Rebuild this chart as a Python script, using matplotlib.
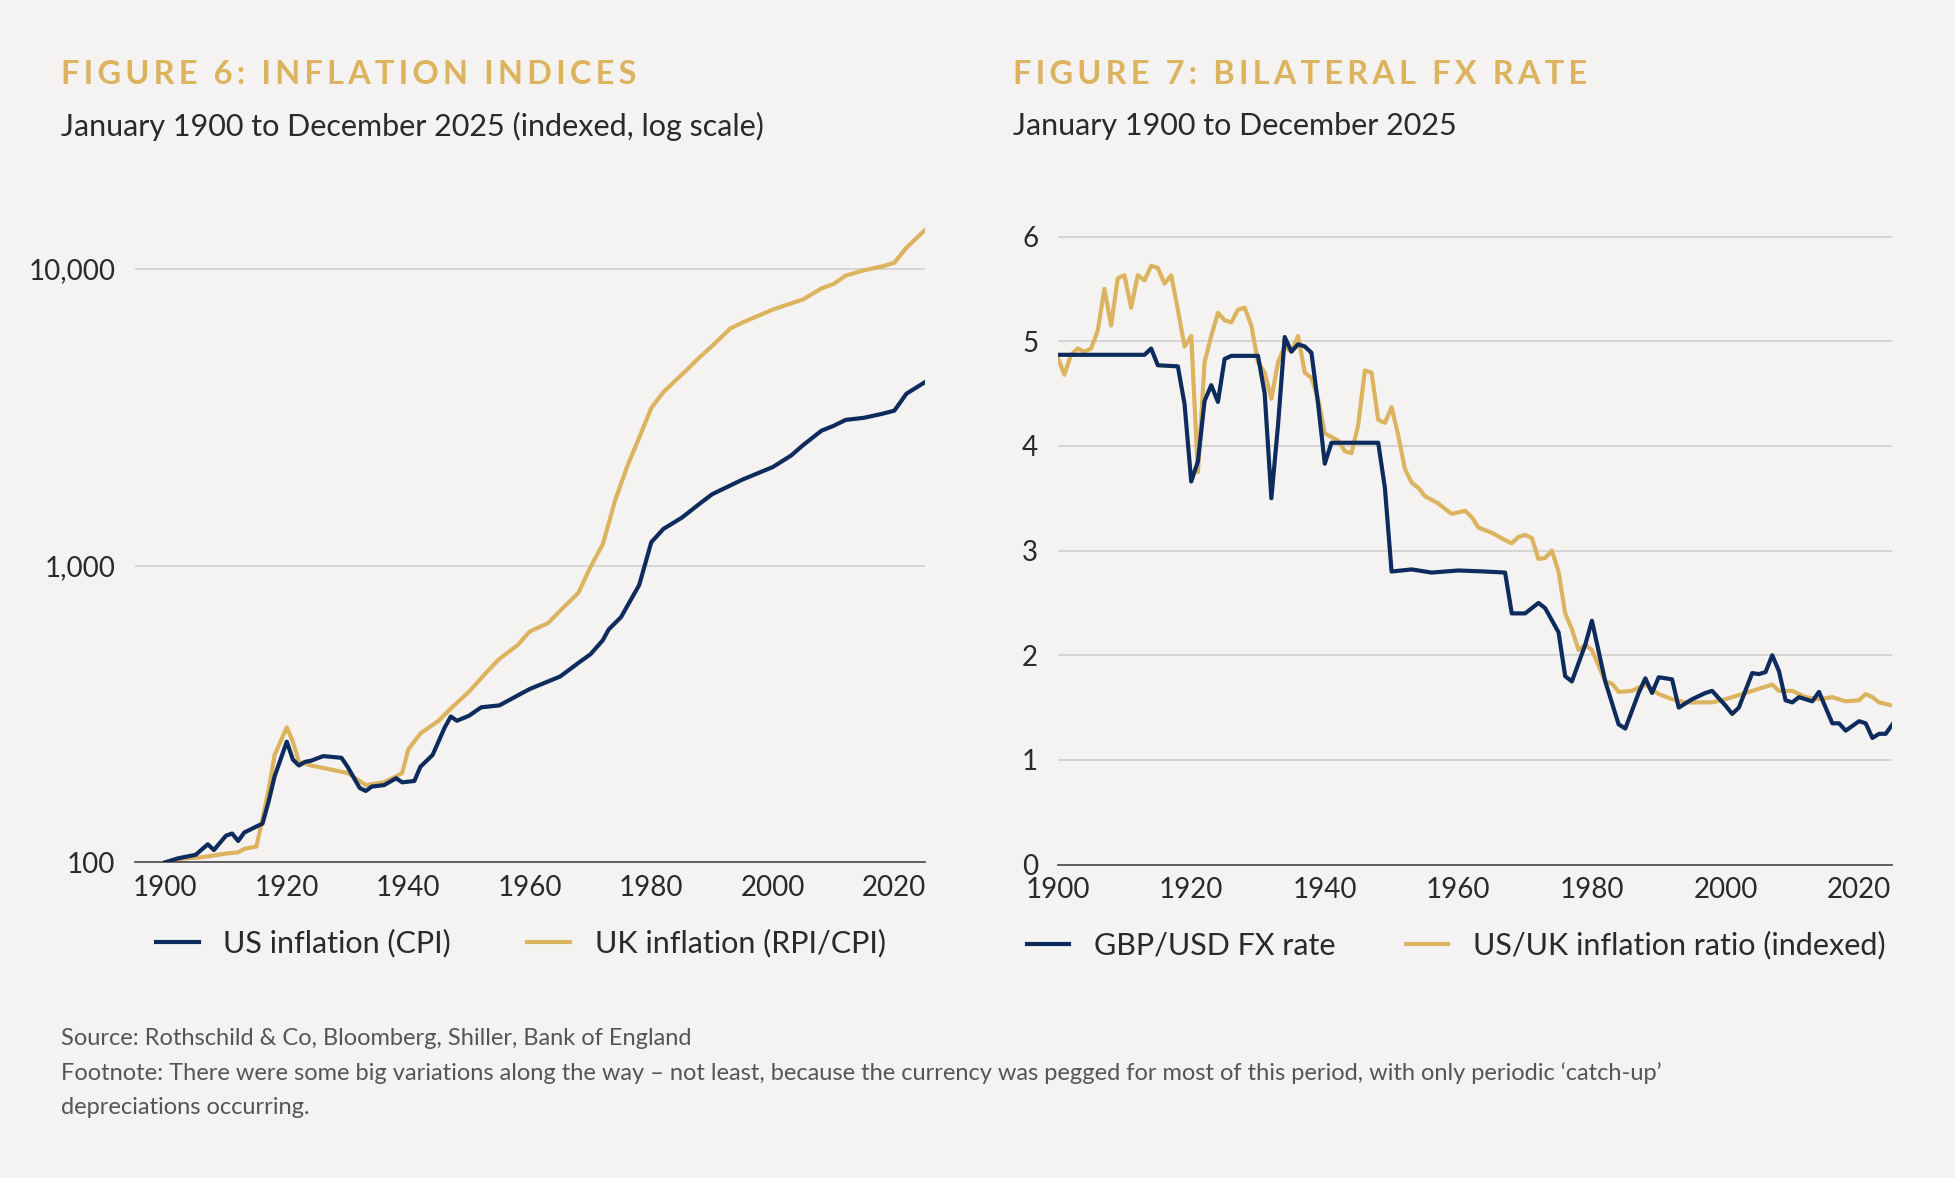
import matplotlib
matplotlib.use("Agg")
import matplotlib.pyplot as plt
from matplotlib.ticker import FixedLocator, FuncFormatter, NullLocator

plt.rcParams['font.family'] = ['Lato', 'DejaVu Sans']

NAVY = '#0d2b5c'
GOLD = '#dcb35f'
BG = '#f5f3f2'
TXT = '#2a2a2a'

us_years = [1900,1902,1905,1907,1908,1910,1911,1912,1913,1915,1916,1917,1918,1920,1921,1922,1923,1924,1926,1929,1930,1932,1933,1934,1936,1938,1939,1941,1942,1944,1946,1947,1948,1950,1952,1955,1958,1960,1965,1968,1970,1972,1973,1975,1978,1980,1982,1985,1988,1990,1995,2000,2003,2005,2008,2010,2012,2015,2018,2020,2022,2025]
us_cpi = [100,103,106,115,110,123,125,118,126,132,135,160,195,255,222,212,218,220,228,225,210,178,174,180,182,192,186,188,210,230,285,310,300,312,333,338,365,384,423,470,503,560,610,670,860,1200,1330,1450,1620,1740,1950,2150,2350,2550,2850,2960,3100,3150,3250,3330,3800,4150]

uk_years = [1900,1903,1906,1910,1912,1913,1915,1916,1917,1918,1920,1921,1922,1924,1926,1930,1933,1936,1938,1939,1940,1942,1945,1947,1950,1953,1955,1958,1960,1963,1965,1968,1970,1972,1973,1974,1976,1978,1980,1982,1985,1988,1990,1993,1995,2000,2005,2008,2010,2012,2015,2018,2020,2022,2025]
uk_cpi = [100,103,104,107,108,111,113,140,175,230,285,255,218,212,208,200,182,186,195,200,240,272,300,330,376,440,485,540,600,640,705,810,990,1180,1390,1650,2150,2700,3400,3850,4400,5050,5500,6300,6600,7300,7900,8600,8900,9500,9900,10200,10500,11800,13500]

fx_years = [1900,1913,1914,1915,1918,1919,1920,1921,1922,1923,1924,1925,1926,1930,1931,1932,1933,1934,1935,1936,1937,1938,1939,1940,1941,1948,1949,1950,1953,1956,1960,1964,1967,1968,1970,1972,1973,1975,1976,1977,1979,1980,1982,1984,1985,1987,1988,1989,1990,1992,1993,1995,1997,1998,2000,2001,2002,2004,2005,2006,2007,2008,2009,2010,2011,2013,2014,2016,2017,2018,2020,2021,2022,2023,2024,2025]
gbpusd = [4.87,4.87,4.93,4.77,4.76,4.4,3.66,3.85,4.43,4.58,4.42,4.83,4.86,4.86,4.5,3.5,4.2,5.04,4.9,4.97,4.95,4.89,4.4,3.83,4.03,4.03,3.6,2.8,2.82,2.79,2.81,2.8,2.79,2.4,2.4,2.5,2.45,2.22,1.8,1.75,2.1,2.33,1.75,1.34,1.3,1.64,1.78,1.64,1.79,1.77,1.5,1.58,1.64,1.66,1.52,1.44,1.5,1.83,1.82,1.84,2.0,1.85,1.57,1.55,1.6,1.56,1.65,1.35,1.35,1.28,1.37,1.35,1.21,1.25,1.25,1.34]

ratio_years = [1900,1901,1902,1903,1904,1905,1906,1907,1908,1909,1910,1911,1912,1913,1914,1915,1916,1917,1918,1919,1920,1921,1922,1923,1924,1925,1926,1927,1928,1929,1930,1931,1932,1933,1934,1935,1936,1937,1938,1939,1940,1942,1943,1944,1945,1946,1947,1948,1949,1950,1951,1952,1953,1954,1955,1957,1959,1961,1962,1963,1965,1967,1968,1969,1970,1971,1972,1973,1974,1975,1976,1977,1978,1979,1980,1982,1983,1984,1986,1988,1990,1992,1994,1996,1998,2000,2002,2004,2006,2007,2008,2010,2012,2014,2016,2018,2020,2021,2022,2023,2025]
ratio = [4.85,4.68,4.87,4.93,4.9,4.93,5.1,5.5,5.15,5.6,5.63,5.32,5.63,5.58,5.72,5.7,5.55,5.63,5.3,4.95,5.05,3.75,4.8,5.05,5.27,5.2,5.18,5.3,5.32,5.15,4.8,4.7,4.45,4.8,4.95,4.9,5.05,4.7,4.65,4.45,4.12,4.05,3.95,3.93,4.2,4.72,4.7,4.25,4.22,4.37,4.1,3.78,3.65,3.6,3.52,3.45,3.35,3.38,3.32,3.22,3.17,3.1,3.07,3.13,3.15,3.12,2.92,2.93,3.0,2.8,2.4,2.25,2.05,2.1,2.05,1.75,1.73,1.65,1.66,1.72,1.63,1.58,1.55,1.55,1.55,1.58,1.62,1.66,1.7,1.72,1.66,1.66,1.6,1.58,1.6,1.56,1.57,1.63,1.6,1.55,1.52]


def spaced(s):
    return '\u2009 \u2009'.join('\u2009'.join(w) for w in s.split(' '))


fig = plt.figure(figsize=(19.55, 11.78), dpi=100, facecolor=BG)

ax1 = fig.add_axes([0.069, 0.268, 0.404, 0.548], facecolor=BG)
ax2 = fig.add_axes([0.541, 0.266, 0.427, 0.551], facecolor=BG)

ax1.plot(us_years, us_cpi, color=NAVY, lw=3, label='US inflation (CPI)', zorder=3)
ax1.plot(uk_years, uk_cpi, color=GOLD, lw=3, label='UK inflation (RPI/CPI)', zorder=2)
ax1.set_yscale('log')
ax1.set_ylim(100, 15000)
ax1.set_xlim(1895, 2025)
ax1.yaxis.set_major_locator(FixedLocator([100, 1000, 10000]))
ax1.yaxis.set_minor_locator(NullLocator())
ax1.yaxis.set_major_formatter(FuncFormatter(lambda v, p: f'{int(v):,}'))

ax2.plot(fx_years, gbpusd, color=NAVY, lw=3, label='GBP/USD FX rate', zorder=3)
ax2.plot(ratio_years, ratio, color=GOLD, lw=3, label='US/UK inflation ratio (indexed)', zorder=2)
ax2.set_ylim(0, 6.2)
ax2.set_xlim(1900, 2025)
ax2.set_yticks(range(0, 7))

for ax in (ax1, ax2):
    ax.set_xticks(range(1900, 2021, 20))
    ax.grid(axis='y', color='#cfcfcf', lw=1.2)
    ax.set_axisbelow(True)
    for s in ('top', 'right', 'left'):
        ax.spines[s].set_visible(False)
    ax.spines['bottom'].set_color('#555555')
    ax.spines['bottom'].set_linewidth(1.3)
    ax.tick_params(axis='y', length=0, labelsize=20, labelcolor=TXT, pad=14)
    ax.tick_params(axis='x', length=0, labelsize=20, labelcolor=TXT, pad=9)

ax1.legend(loc='upper left', bbox_to_anchor=(-0.008, -0.06), ncol=2, frameon=False,
           fontsize=22, handlelength=1.4, columnspacing=2.5, labelcolor=TXT)
ax2.legend(loc='upper left', bbox_to_anchor=(-0.07, -0.06), ncol=2, frameon=False,
           fontsize=22, handlelength=1.4, columnspacing=2.3, labelcolor=TXT)

fig.text(0.031, 0.937, spaced('FIGURE 6: INFLATION INDICES'),
         color=GOLD, fontsize=23.5, fontweight='bold', va='center')
fig.text(0.031, 0.893, 'January 1900 to December 2025 (indexed, log scale)', color=TXT,
         fontsize=22, va='center')
fig.text(0.518, 0.937, spaced('FIGURE 7: BILATERAL FX RATE'),
         color=GOLD, fontsize=23.5, fontweight='bold', va='center')
fig.text(0.518, 0.893, 'January 1900 to December 2025', color=TXT, fontsize=22, va='center')

fig.text(0.031, 0.118, 'Source: Rothschild & Co, Bloomberg, Shiller, Bank of England',
         color='#555555', fontsize=17, va='center')
fig.text(0.031, 0.089, 'Footnote: There were some big variations along the way \u2013 not least, because the currency was pegged for most of this period, with only periodic \u2018catch-up\u2019',
         color='#555555', fontsize=17, va='center')
fig.text(0.031, 0.060, 'depreciations occurring.', color='#555555', fontsize=17, va='center')

fig.savefig('out.png', dpi=100, facecolor=BG)
